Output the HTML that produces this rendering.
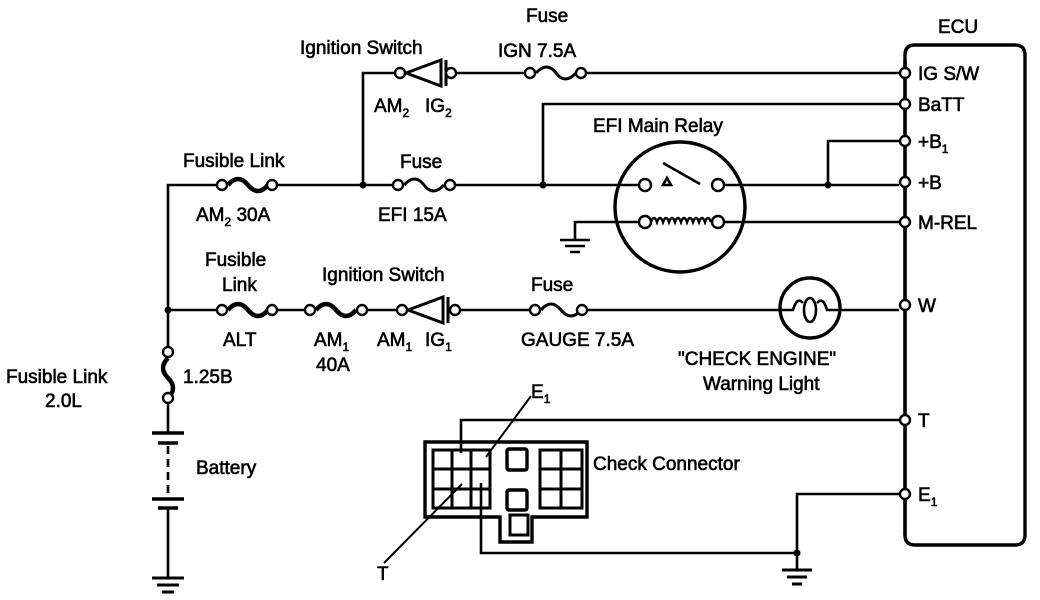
<!DOCTYPE html>
<html><head><meta charset="utf-8"><style>
html,body{margin:0;padding:0;background:#fff;}
svg{display:block;}
text{font-family:"Liberation Sans",sans-serif;font-size:19px;fill:#000;stroke:#000;stroke-width:0.6px;}
.s{font-size:12px;}
</style></head><body>
<svg width="1040" height="600" viewBox="0 0 1040 600" xmlns="http://www.w3.org/2000/svg">
<g stroke="#000" stroke-width="2.6" fill="none">
<path d="M905 55 Q905 45 915 45 L1015 45 Q1025 45 1025 55 L1025 535 Q1025 545 1015 545 L915 545 Q905 545 905 535 Z" stroke-width="3.4"/>
<path d="M363 185 V73 H394 M456 73 H524 M586 73 H899"/>
<path d="M543 185 V104 H899"/>
<path d="M168 310 V185 H216 M278 185 H392 M456 185 H639 M724 185 H899"/>
<path d="M828 185 V141 H899"/>
<path d="M575 240 V222 H639 M724 222 H899"/>
<path d="M560 240 H590 M565 246 H585 M570 252 H580"/>
<circle cx="680" cy="207" r="65" stroke-width="3.4"/>
<path d="M663 163 L700 184"/>
<path d="M663 185 L667 178 L671 185 Z"/>
<path d="M651 222 q3 -8 6 0 q3 -8 6 0 q3 -8 6 0 q3 -8 6 0 q3 -8 6 0 q3 -8 6 0 q3 -8 6 0 q3 -8 6 0 q3 -8 6 0 q3 -8 6 0"/>
<path d="M168 310 H216 M278 310 H304 M368 310 H396 M461 310 H529 M588 310 H780 M840 310 H899"/>
<circle cx="810" cy="308" r="30" stroke-width="3.4"/>
<path d="M780 310 H793 Q797 296 803 303 M817 303 Q823 296 827 310 H840"/>
<ellipse cx="810" cy="310" rx="6" ry="12"/>
<path d="M168 310 V346 M168 404 V433 M168 508 V578"/>
<path d="M152 433 H184 M158 443 H178 M152 499 H184 M158 508 H178" stroke-width="3.4"/>
<path d="M168 446 V496" stroke-dasharray="8 5"/>
<path d="M152 578 H184 M157 585 H179 M162 592 H174" stroke-width="3"/>
<path d="M899 420 H461 V453"/>
<path d="M899 494 H797 V570 M481 483 V553 H797"/>
<path d="M782 570 H812 M787 577 H807 M792 584 H802" stroke-width="3"/>
<path d="M905 60 V535" stroke-width="3.4"/>
<path d="M425 442 H587 V517 H532 V542 H500 V517 H425 Z" stroke-width="3.4"/>
<path d="M433 450 H490 V508 H433 Z M433 469 H490 M433 489 H490 M452 450 V508 M471 450 V508" stroke-width="3"/>
<rect x="507" y="449" width="20" height="21" rx="2" stroke-width="3.4"/>
<rect x="507" y="490" width="20" height="20" rx="2" stroke-width="3.4"/>
<rect x="510" y="515" width="18" height="20" stroke-width="3"/>
<path d="M540 450 H582 V508 H540 Z M561 450 V508 M540 469 H582 M540 489 H582" stroke-width="3"/>
<path d="M531 396 L486 457 M384 563 L462 484" stroke-width="2"/>
<path d="M228 185 q10 -12 20 0 t20 0" stroke-width="4.5"/>
<path d="M228 310 q10 -12 20 0 t20 0" stroke-width="4.5"/>
<path d="M316 310 q10 -12 20 0 t20 0" stroke-width="4.5"/>
<path d="M404 185 q11 -12 20 0 t20 0" stroke-width="3"/>
<path d="M536 73 q11 -12 20 0 t20 0" stroke-width="3"/>
<path d="M541 310 q10 -12 20 0 t20 0" stroke-width="3"/>
<path d="M168 358 q-10 10 0 20 t0 20" stroke-width="4.5"/>
<path d="M406 73 L441 60 L441 86 Z M446 60 L446 86" stroke-width="3"/>
<path d="M408 310 L443 297 L443 323 Z M448 297 L448 323" stroke-width="3"/>
</g>
<g stroke="#000" stroke-width="2.4" fill="#fff">
<circle cx="222" cy="185" r="5"/><circle cx="272" cy="185" r="5"/>
<circle cx="398" cy="185" r="5"/><circle cx="450" cy="185" r="5"/>
<circle cx="400" cy="73" r="5"/><circle cx="451" cy="73" r="5"/>
<circle cx="530" cy="73" r="5"/><circle cx="581" cy="73" r="5"/>
<circle cx="645" cy="185" r="6"/><circle cx="718" cy="185" r="6"/>
<circle cx="645" cy="222" r="6"/><circle cx="718" cy="222" r="6"/>
<circle cx="222" cy="310" r="5"/><circle cx="272" cy="310" r="5"/>
<circle cx="310" cy="310" r="5"/><circle cx="362" cy="310" r="5"/>
<circle cx="402" cy="310" r="5"/><circle cx="455" cy="310" r="5"/>
<circle cx="535" cy="310" r="5"/><circle cx="582" cy="310" r="5"/>
<circle cx="168" cy="352" r="5"/><circle cx="168" cy="398" r="5"/>
<circle cx="905" cy="73" r="5"/><circle cx="905" cy="104" r="5"/><circle cx="905" cy="141" r="5"/>
<circle cx="905" cy="182" r="5"/><circle cx="905" cy="222" r="5"/><circle cx="905" cy="305" r="5"/>
<circle cx="905" cy="420" r="5"/><circle cx="905" cy="494" r="5"/>
</g>
<g fill="#000">
<circle cx="363" cy="185" r="3.5"/><circle cx="543" cy="185" r="3.5"/><circle cx="828" cy="185" r="3.5"/>
<circle cx="168" cy="310" r="3.5"/><circle cx="797" cy="553" r="3.5"/>
</g>
<text x="938" y="33">ECU</text>
<text x="526" y="22">Fuse</text>
<text x="300" y="54">Ignition Switch</text>
<text x="498" y="57">IGN 7.5A</text>
<text x="374" y="112">AM<tspan class="s" dy="5">2</tspan></text>
<text x="425" y="112">IG<tspan class="s" dy="5">2</tspan></text>
<text x="593" y="132">EFI Main Relay</text>
<text x="183" y="167">Fusible Link</text>
<text x="400" y="168">Fuse</text>
<text x="196" y="221">AM<tspan class="s" dy="5">2</tspan><tspan dy="-5"> 30A</tspan></text>
<text x="378" y="221">EFI 15A</text>
<text x="205" y="266">Fusible</text>
<text x="222" y="291">Link</text>
<text x="322" y="281">Ignition Switch</text>
<text x="531" y="291">Fuse</text>
<text x="223" y="346">ALT</text>
<text x="314" y="346">AM<tspan class="s" dy="5">1</tspan></text>
<text x="377" y="346">AM<tspan class="s" dy="5">1</tspan></text>
<text x="425" y="346">IG<tspan class="s" dy="5">1</tspan></text>
<text x="316" y="371">40A</text>
<text x="521" y="346">GAUGE 7.5A</text>
<text x="678" y="365">"CHECK ENGINE"</text>
<text x="703" y="390">Warning Light</text>
<text x="6" y="383">Fusible Link</text>
<text x="45" y="407">2.0L</text>
<text x="183" y="383">1.25B</text>
<text x="196" y="474">Battery</text>
<text x="593" y="470">Check Connector</text>
<text x="531" y="398">E<tspan class="s" dy="5">1</tspan></text>
<text x="377" y="580">T</text>
<text x="918" y="80">IG S/W</text>
<text x="918" y="111">BaTT</text>
<text x="918" y="148">+B<tspan class="s" dy="5">1</tspan></text>
<text x="918" y="189">+B</text>
<text x="918" y="229">M-REL</text>
<text x="918" y="312">W</text>
<text x="918" y="427">T</text>
<text x="918" y="501">E<tspan class="s" dy="5">1</tspan></text>
</svg>
</body></html>
